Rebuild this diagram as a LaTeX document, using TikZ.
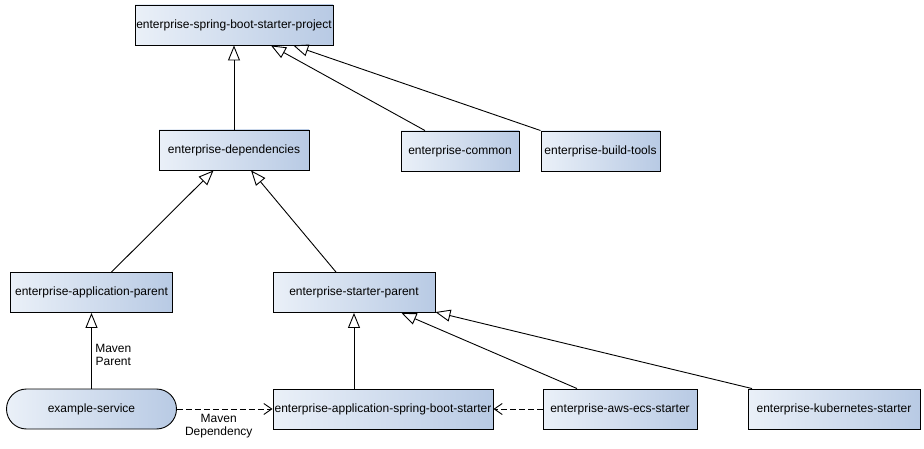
\documentclass[tikz,border=0pt]{standalone}
\usepackage{fontspec}
\setmainfont{Liberation Sans}
\usetikzlibrary{arrows.meta}

\definecolor{boxleft}{HTML}{EAF0F8}
\definecolor{boxright}{HTML}{B8CAE4}

\tikzset{
	module/.style = {draw, line width = 0.9pt, left color = boxleft, right color = boxright,
		minimum height = 40pt, inner sep = 1pt, font = \fontsize{12}{13}\selectfont},
	service/.style = {module, rounded corners = 20pt},
	inherit/.style = {line width = 0.9pt, -{Triangle[open, length = 15pt, width = 12pt]}},
	depend/.style = {line width = 0.9pt, dash pattern = on 6pt off 3pt,
		-{Straight Barb[length = 8pt, width = 11pt]}},
	edgelabel/.style = {align = center, font = \fontsize{12}{13}\selectfont}
}

\begin{document}
\begin{tikzpicture}[x = 1pt, y = -1pt]
		\useasboundingbox (0,0) rectangle (924,449);
		
		\node [module, minimum width = 198pt] (project) at (234,25) {enterprise-spring-boot-starter-project};
		
		\node [module, minimum width = 150pt] (dependencies) at (234,150) {enterprise-dependencies};
		\node [module, minimum width = 118pt] (common) at (460,151) {enterprise-common};
		\node [module, minimum width = 119pt] (build tools) at (600.5,151) {enterprise-build-tools};
		
		\node [module, minimum width = 162pt] (application parent) at (91.5,292.5) {enterprise-application-parent};
		\node [module, minimum width = 162pt] (starter parent) at (354,292.5) {enterprise-starter-parent};
		
		\node [service, minimum width = 170pt] (example service) at (91.5,409) {example-service};
		\node [module, minimum width = 220pt] (spring starter) at (383,409) {enterprise-application-spring-boot-starter};
		\node [module, minimum width = 154pt] (aws starter) at (620,409) {enterprise-aws-ecs-starter};
		\node [module, minimum width = 172pt] (kubernetes starter) at (834,409) {enterprise-kubernetes-starter};
		
		\draw [inherit] (dependencies) -- (project);
		\draw [inherit] ([xshift = -35pt] common.north) -- (project);
		\draw [inherit] (build tools.north west) -- (project);
		
		\draw [inherit] ([xshift = 20pt] application parent.north) -- (dependencies);
		\draw [inherit] ([xshift = -18pt] starter parent.north) -- (dependencies);
		
		\draw [inherit] (example service) -- (application parent) node [edgelabel, pos = 0.44, right] {Maven\\Parent};
		\draw [inherit] (spring starter.north -| starter parent) -- (starter parent);
		\draw [inherit] ([xshift = -43pt] aws starter.north) -- (starter parent);
		\draw [inherit] ([xshift = -82pt] kubernetes starter.north) -- (starter parent);
		
		\draw [depend] (example service) -- (spring starter) node [edgelabel, midway, below = 1pt, xshift = -6pt] {Maven\\Dependency};
		\draw [depend] (aws starter) -- (spring starter);
	\end{tikzpicture}
\end{document}
